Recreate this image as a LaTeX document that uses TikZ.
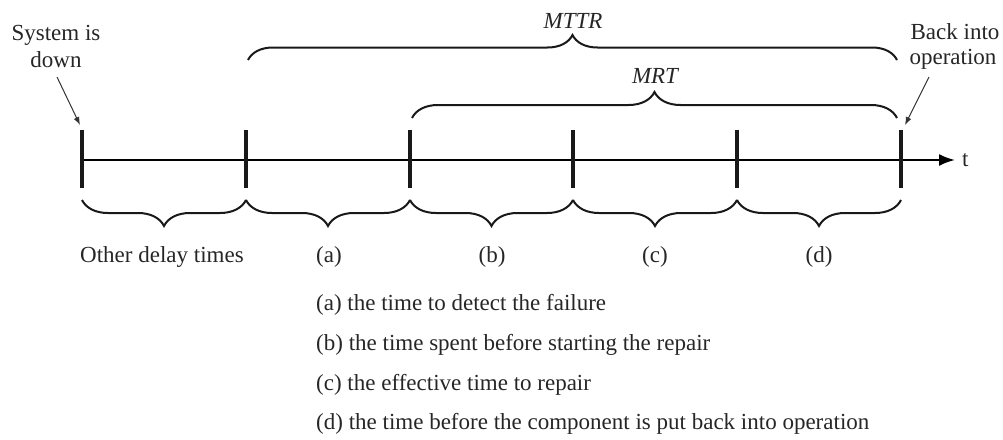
\documentclass[tikz,border=0pt]{standalone}
\usepackage{fontspec}
\setmainfont{Liberation Serif}
\usetikzlibrary{decorations.pathreplacing,arrows.meta}
\begin{document}
\begin{tikzpicture}[x=1pt,y=1pt,
  txt/.style={inner sep=0pt, font=\fontsize{23}{27}\selectfont, text=black!85},
  tickline/.style={line width=4pt, black!90},
  axisline/.style={line width=2pt, -{Latex[length=16pt,width=12pt]}},
  brc/.style={line width=2pt, black!90, decorate, decoration={brace, amplitude=#1}},
  pointer/.style={line width=1pt, black!80, -{Latex[length=8pt,width=6pt]}}]
\useasboundingbox (0,0) rectangle (1003,-439);
% ticks
\foreach \n/\x in {0/82,1/246,2/410,3/573,4/737,5/901}{
  \coordinate (t\n) at (\x,-160);
  \coordinate (tt\n) at (\x,-130);
  \coordinate (tb\n) at (\x,-188);
  \coordinate (bb\n) at (\x,-200);
}
\coordinate (axend) at (955,-160);
\draw[axisline] (t0) -- (axend);
\foreach \n in {0,...,5}{ \draw[tickline] (tt\n) -- (tb\n); }
\node[txt, anchor=base west] (tlab) at (962,-166) {t};
% bottom braces
\foreach \a/\b in {0/1,1/2,2/3,3/4,4/5}{
  \draw[brc=26pt, decoration={mirror}] (bb\a) -- (bb\b);
}
\node[txt, anchor=base] (other) at (162,-262) {Other delay times};
\node[txt, anchor=base] (la) at (329,-262) {(a)};
\node[txt, anchor=base] (lb) at (492,-262) {(b)};
\node[txt, anchor=base] (lc) at (655,-262) {(c)};
\node[txt, anchor=base] (ld) at (819,-262) {(d)};
% top braces
\coordinate (m0) at (248,-60);
\coordinate (m1) at (897,-60);
\draw[brc=25pt] (m0) -- (m1);
\node[txt, anchor=base] (mttr) at (573,-28) {\itshape MTTR};
\coordinate (r0) at (412,-118);
\coordinate (r1) at (897,-118);
\draw[brc=26pt] (r0) -- (r1);
\node[txt, anchor=base] (mrt) at (655,-83) {\itshape MRT};
% side labels
\node[txt, anchor=base] (sys1) at (56,-40) {System is};
\node[txt, anchor=base] (sys2) at (56,-67) {down};
\node[txt, anchor=base] (back1) at (955,-39) {Back into};
\node[txt, anchor=base] (back2) at (953,-64) {operation};
\coordinate (p0) at (57,-77);
\coordinate (p0e) at (80,-125);
\draw[pointer] (p0) -- (p0e);
\coordinate (p1) at (929,-77);
\coordinate (p1e) at (905,-125);
\draw[pointer] (p1) -- (p1e);
% legend
\node[txt, anchor=base west] (da) at (316,-310) {(a) the time to detect the failure};
\node[txt, anchor=base west] (db) at (316,-350) {(b) the time spent before starting the repair};
\node[txt, anchor=base west] (dc) at (316,-390) {(c) the effective time to repair};
\node[txt, anchor=base west] (dd) at (316,-429) {(d) the time before the component is put back into operation};
\end{tikzpicture}
\end{document}
